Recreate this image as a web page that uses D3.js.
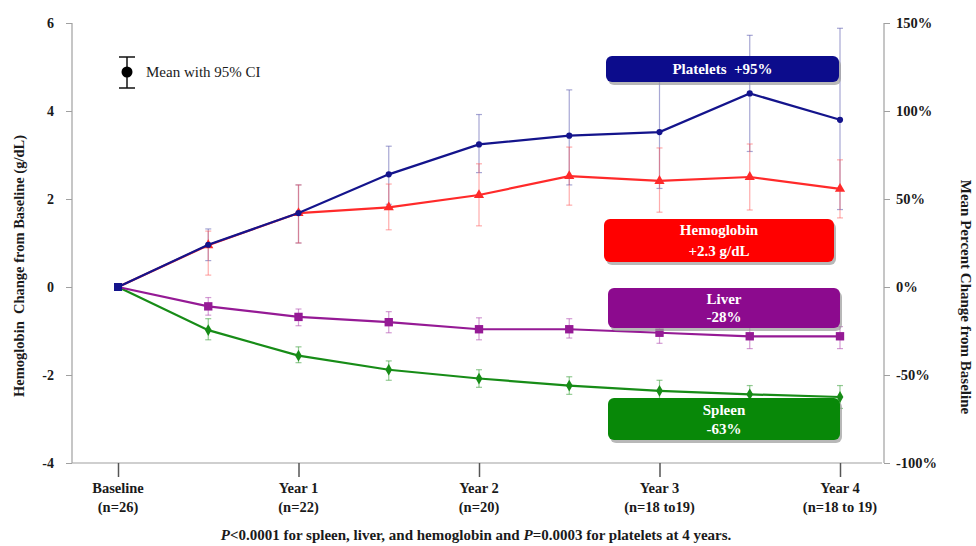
<!DOCTYPE html>
<html><head><meta charset="utf-8">
<script src="https://cdn.jsdelivr.net/npm/d3@7/dist/d3.min.js"></script>
<style>
body{margin:0;background:#fff;}
svg{display:block;font-family:"Liberation Serif","Times New Roman",serif;}
</style></head>
<body>
<svg id="chart" width="976" height="546"></svg>
<script>
// ---- data ----
const timepoints = [0, 0.5, 1, 1.5, 2, 2.5, 3, 3.5, 4];
const xTickValues = [0, 1, 2, 3, 4];
const xTickLine1 = ["Baseline", "Year 1", "Year 2", "Year 3", "Year 4"];
const xTickLine2 = ["(n=26)", "(n=22)", "(n=20)", "(n=18 to19)", "(n=18 to 19)"];
const leftTicks = [-4, -2, 0, 2, 4, 6];
const rightTicks = [-100, -50, 0, 50, 100, 150];

// platelets: mean % change (right axis)
const plateletsMean  = [0, 24, 42, 64, 81, 86, 88, 110, 95];
const plateletsLow   = [0, 15, 25, 47, 65, 58, 56, 77, 44];
const plateletsHigh  = [0, 33, 58, 80, 98, 112, 120, 143, 147];
// hemoglobin: mean change g/dL (left axis)
const hemoMean = [0, 0.95, 1.68, 1.81, 2.09, 2.52, 2.41, 2.50, 2.23];
const hemoLow  = [0, 0.27, 1.00, 1.30, 1.39, 1.86, 1.70, 1.75, 1.57];
const hemoHigh = [0, 1.27, 2.32, 2.34, 2.80, 3.18, 3.16, 3.25, 2.89];
// liver: mean % change (right axis)
const liverMean = [0, -11, -17, -20, -24, -24, -26, -28, -28];
const liverLow  = [0, -16, -22, -26, -30, -29, -32, -35, -35];
const liverHigh = [0, -6, -12.5, -14, -17.5, -18, -21, -22, -22.5];
// spleen: mean % change (right axis)
const spleenMean = [0, -24.5, -39, -47, -52, -56, -59, -61, -62.5];
const spleenLow  = [0, -30, -43, -53, -57, -61, -64, -66.5, -69];
const spleenHigh = [0, -18, -34, -42, -47, -51, -53, -56, -56];

const boxLabels = [
  {lines:["Platelets  +95%"], color:"#0c0c8c"},
  {lines:["Hemoglobin","+2.3 g/dL"], color:"#ff0000"},
  {lines:["Liver","-28%"], color:"#8c0a8e"},
  {lines:["Spleen","-63%"], color:"#088808"}
];

// ---- layout ----
const svg = d3.select("#chart");
const x = d3.scaleLinear().domain([0, 4]).range([118, 840]);
const yL = d3.scaleLinear().domain([-4, 6]).range([463, 23]);
const yR = d3.scaleLinear().domain([-100, 150]).range([463, 23]);
const axisColor = "#a0a0a0";
const txt = "#1a1a1a";

// axes lines
svg.append("line").attr("x1",72).attr("x2",72).attr("y1",23).attr("y2",463).attr("stroke",axisColor).attr("stroke-width",1.2);
svg.append("line").attr("x1",884).attr("x2",884).attr("y1",23).attr("y2",463).attr("stroke",axisColor).attr("stroke-width",1.2);
svg.append("line").attr("x1",72).attr("x2",882).attr("y1",463).attr("y2",463).attr("stroke",axisColor).attr("stroke-width",1.2);

// left axis
const gL = svg.append("g").attr("transform","translate(72,0)")
  .call(d3.axisLeft(yL).tickValues(leftTicks).tickSize(6).tickPadding(12).tickFormat(d3.format("d")));
gL.select(".domain").remove();
gL.selectAll("line").attr("stroke",axisColor);
gL.selectAll("text").attr("font-size",14).attr("font-weight","bold").attr("fill",txt)
  .attr("font-family","Liberation Serif").text(d => d < 0 ? "-" + Math.abs(d) : d);

// right axis
const gR = svg.append("g").attr("transform","translate(884,0)")
  .call(d3.axisRight(yR).tickValues(rightTicks).tickSize(6).tickPadding(6).tickFormat(d => (d<0?"-"+Math.abs(d):d) + "%"));
gR.select(".domain").remove();
gR.selectAll("line").attr("stroke",axisColor);
gR.selectAll("text").attr("font-size",14.5).attr("font-weight","bold").attr("fill",txt).attr("font-family","Liberation Serif");

// bottom axis
const gB = svg.append("g").attr("transform","translate(0,463)")
  .call(d3.axisBottom(x).tickValues(xTickValues).tickSize(14).tickFormat(""));
gB.select(".domain").remove();
gB.selectAll("line").attr("stroke","#555").attr("stroke-width",1.5);
xTickValues.forEach((v,i) => {
  const t = svg.append("text").attr("x", x(v)).attr("text-anchor","middle")
    .attr("font-size",14.5).attr("font-weight","bold").attr("fill",txt);
  t.append("tspan").attr("x", x(v)).attr("y", 493).text(xTickLine1[i]);
  t.append("tspan").attr("x", x(v)).attr("y", 512).text(xTickLine2[i]);
});

// axis titles
svg.append("text").attr("transform","translate(24,266) rotate(-90)").attr("text-anchor","middle")
  .attr("font-size",14.5).attr("font-weight","bold").attr("fill",txt).attr("xml:space","preserve")
  .text("Hemoglobin  Change from Baseline (g/dL)");
svg.append("text").attr("transform","translate(961,297) rotate(90)").attr("text-anchor","middle")
  .attr("font-size",15).attr("font-weight","bold").attr("fill",txt)
  .text("Mean Percent Change from Baseline");

// footnote
const fn = svg.append("text").attr("x",476).attr("y",540).attr("text-anchor","middle")
  .attr("font-size",15).attr("font-weight","bold").attr("fill",txt);
fn.append("tspan").attr("font-style","italic").text("P");
fn.append("tspan").text("<0.0001 for spleen, liver, and hemoglobin and ");
fn.append("tspan").attr("font-style","italic").text("P");
fn.append("tspan").text("=0.0003 for platelets at 4 years.");

// legend
const lg = svg.append("g");
lg.append("line").attr("x1",127).attr("x2",127).attr("y1",57).attr("y2",88).attr("stroke","#111").attr("stroke-width",1.5);
lg.append("line").attr("x1",119).attr("x2",135).attr("y1",57).attr("y2",57).attr("stroke","#111").attr("stroke-width",1.5);
lg.append("line").attr("x1",119).attr("x2",135).attr("y1",88).attr("y2",88).attr("stroke","#111").attr("stroke-width",1.5);
lg.append("circle").attr("cx",127).attr("cy",72).attr("r",5.5).attr("fill","#000");
lg.append("text").attr("x",146).attr("y",77).attr("font-size",15).attr("fill",txt).text("Mean with 95% CI");

function series(mean, low, high, yScale, barColor, g) {
  const data = timepoints.map((t,i) => ({t, m:mean[i], lo:low[i], hi:high[i]}));
  const eb = g.append("g");
  data.filter(d => d.t > 0).forEach(d => {
    eb.append("line").attr("x1",x(d.t)).attr("x2",x(d.t)).attr("y1",yScale(d.lo)).attr("y2",yScale(d.hi))
      .attr("stroke",barColor).attr("stroke-width",1.2);
    [d.lo, d.hi].forEach(v => eb.append("line").attr("x1",x(d.t)-3).attr("x2",x(d.t)+3)
      .attr("y1",yScale(v)).attr("y2",yScale(v)).attr("stroke",barColor).attr("stroke-width",1.2));
  });
  return data;
}
function drawLine(data, yScale, color, symbol, size, g) {
  g.append("path").datum(data)
    .attr("d", d3.line().x(d => x(d.t)).y(d => yScale(d.m)))
    .attr("fill","none").attr("stroke",color).attr("stroke-width",2.2);
  g.selectAll(null).data(data.filter(d => d.t > 0)).enter().append("path")
    .attr("transform", d => `translate(${x(d.t)},${yScale(d.m)})`)
    .attr("d", d3.symbol().type(symbol).size(size)).attr("fill",color);
}

const gBars = svg.append("g");
const gLines = svg.append("g");
const sp = series(spleenMean, spleenLow, spleenHigh, yR, "rgba(60,160,60,0.55)", gBars);
const lv = series(liverMean, liverLow, liverHigh, yR, "rgba(170,60,170,0.5)", gBars);
const pl = series(plateletsMean, plateletsLow, plateletsHigh, yR, "rgba(80,80,170,0.5)", gBars);
const hb = series(hemoMean, hemoLow, hemoHigh, yL, "rgba(255,90,90,0.5)", gBars);
drawLine(sp, yR, "#178c17", d3.symbolDiamond, 40, gLines);
drawLine(lv, yR, "#951a95", d3.symbolSquare, 70, gLines);
drawLine(hb, yL, "#ff2a2a", d3.symbolTriangle, 45, gLines);
drawLine(pl, yR, "#14148c", d3.symbolCircle, 30, gLines);
// baseline point
gLines.append("rect").attr("x", x(0)-4).attr("y", yL(0)-4).attr("width",8).attr("height",8).attr("fill","#14148c");

// boxes
const boxPos = [
  {x:606, y:56, w:233, h:26, gap:0},
  {x:604, y:219, w:230, h:43, gap:21},
  {x:608, y:288, w:232, h:40, gap:18},
  {x:608, y:398, w:232, h:42, gap:19}
];
boxLabels.forEach((b,i) => {
  const p = boxPos[i];
  const g = svg.append("g");
  g.append("rect").attr("x",p.x+2).attr("y",p.y+3).attr("width",p.w).attr("height",p.h).attr("rx",6)
    .attr("fill","#9a9a9a").attr("opacity",0.7);
  g.append("rect").attr("x",p.x).attr("y",p.y).attr("width",p.w).attr("height",p.h).attr("rx",6).attr("fill",b.color);
  const n = b.lines.length;
  b.lines.forEach((ln,j) => {
    g.append("text").attr("x", p.x + p.w/2).attr("y", p.y + p.h/2 + 5 + (j - (n-1)/2)*p.gap)
      .attr("text-anchor","middle").attr("font-size",15).attr("font-weight","bold").attr("fill","#fff")
      .attr("xml:space","preserve").text(ln);
  });
});
</script>
</body></html>
